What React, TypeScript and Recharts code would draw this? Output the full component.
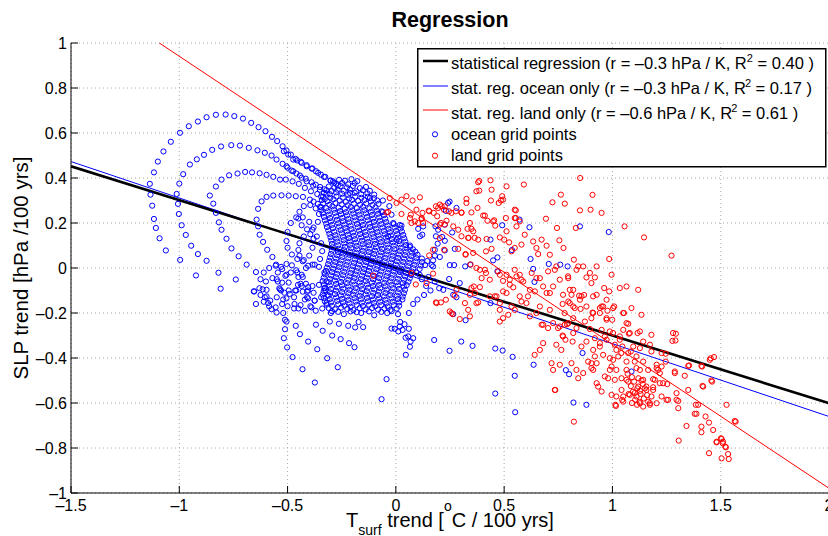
import React from 'react';
import { ScatterChart, Scatter, XAxis, YAxis, CartesianGrid, ReferenceLine, Legend } from 'recharts';

const FONT = '"Liberation Sans", Arial, Helvetica, sans-serif';

const xTicks = [-1.5, -1, -0.5, 0, 0.5, 1, 1.5, 2];
const yTicks = [-1, -0.8, -0.6, -0.4, -0.2, 0, 0.2, 0.4, 0.6, 0.8, 1];

// regression lines, end points in data units
const regAll = [{ x: -1.5, y: 0.452 }, { x: 2, y: -0.601 }];
const regOcean = [{ x: -1.5, y: 0.473 }, { x: 2, y: -0.66 }];
const regLand = [{ x: -1.5, y: 1.261 }, { x: 2, y: -0.979 }];

// ocean grid points: the big arcs on the left
const oceanArcs = [
  [-1.136, 0.374], [-1.133, 0.326], [-1.125, 0.277], [-1.117, 0.218], [-1.108, 0.178], [-1.091, 0.132], [-1.062, 0.078], [-0.996, 0.036], [-0.923, -0.033],
  [-1.117, 0.425], [-1.099, 0.473], [-1.073, 0.518], [-1.039, 0.561], [-0.997, 0.601], [-0.956, 0.63], [-0.914, 0.651], [-0.874, 0.67], [-0.831, 0.681], [-0.786, 0.682],
  [-0.746, 0.675], [-0.706, 0.664], [-0.668, 0.645], [-0.634, 0.626], [-0.602, 0.608], [-0.572, 0.583], [-0.548, 0.564], [-0.523, 0.541], [-0.505, 0.522], [-0.485, 0.504],
  [-0.463, 0.485], [-0.439, 0.472], [-0.412, 0.457], [-0.385, 0.442], [-0.359, 0.423], [-0.332, 0.405], [-0.302, 0.389],
  [-1.0, 0.375], [-0.982, 0.417], [-0.951, 0.46], [-0.919, 0.483], [-0.886, 0.503], [-0.848, 0.525], [-0.807, 0.54], [-0.76, 0.546], [-0.72, 0.544], [-0.679, 0.534],
  [-0.639, 0.523], [-0.605, 0.512], [-0.574, 0.5], [-0.551, 0.482], [-0.523, 0.463], [-0.5, 0.446], [-0.474, 0.43], [-0.443, 0.411], [-0.416, 0.397], [-0.389, 0.381],
  [-1.012, 0.329], [-1.006, 0.285], [-1.002, 0.24], [-0.989, 0.19], [-0.97, 0.147], [-0.945, 0.099], [-0.914, 0.062], [-0.874, 0.032], [-0.819, -0.021], [-0.809, -0.092],
  [-0.859, 0.322], [-0.831, 0.362], [-0.805, 0.393], [-0.77, 0.412], [-0.731, 0.42], [-0.696, 0.427], [-0.664, 0.425], [-0.629, 0.421], [-0.597, 0.414], [-0.566, 0.405],
  [-0.535, 0.393], [-0.508, 0.393], [-0.477, 0.385], [-0.448, 0.374], [-0.42, 0.356], [-0.392, 0.341], [-0.363, 0.329],
  [-0.843, 0.286], [-0.831, 0.245], [-0.817, 0.203], [-0.805, 0.17], [-0.782, 0.13], [-0.759, 0.087], [-0.726, 0.052], [-0.689, 0.015], [-0.646, -0.018], [-0.654, -0.104], [-0.646, -0.16],
  [-0.643, 0.215], [-0.636, 0.263], [-0.62, 0.296], [-0.597, 0.316], [-0.566, 0.322], [-0.528, 0.323], [-0.495, 0.322], [-0.462, 0.319], [-0.429, 0.316], [-0.397, 0.304],
  [-0.636, 0.185], [-0.629, 0.148], [-0.613, 0.116], [-0.594, 0.081], [-0.57, 0.049], [-0.553, 0.015],
];

const oceanStreaks = [
  [-0.517, 0.519], [-0.497, 0.504], [-0.474, 0.482], [-0.456, 0.478], [-0.435, 0.467], [-0.412, 0.452], [-0.389, 0.442], [-0.369, 0.43], [-0.346, 0.415], [-0.326, 0.405], [-0.301, 0.388],
  [-0.505, 0.452], [-0.482, 0.433], [-0.459, 0.42], [-0.435, 0.401], [-0.412, 0.385], [-0.382, 0.366], [-0.351, 0.348], [-0.32, 0.331],
  [-0.285, 0.378], [-0.268, 0.366], [-0.37, 0.37], [-0.35, 0.36], [-0.33, 0.35], [-0.345, 0.318], [-0.328, 0.306], [-0.38, 0.295], [-0.36, 0.285], [-0.345, 0.27],
];

// dense ocean cluster around x = -0.3 .. 0.1
const oceanCore = [
  [-0.29, 0.385], [-0.262, 0.392], [-0.235, 0.388], [-0.205, 0.395], [-0.178, 0.386],
  [-0.31, 0.362], [-0.284, 0.356], [-0.255, 0.364], [-0.226, 0.358], [-0.198, 0.365], [-0.166, 0.355], [-0.138, 0.36],
  [-0.332, 0.334], [-0.305, 0.328], [-0.276, 0.336], [-0.248, 0.33], [-0.22, 0.325], [-0.19, 0.334], [-0.16, 0.328], [-0.131, 0.332], [-0.1, 0.326],
  [-0.342, 0.302], [-0.316, 0.297], [-0.288, 0.305], [-0.259, 0.299], [-0.231, 0.294], [-0.202, 0.303], [-0.174, 0.298], [-0.145, 0.302], [-0.116, 0.296], [-0.086, 0.3],
  [-0.35, 0.272], [-0.321, 0.266], [-0.293, 0.274], [-0.264, 0.268], [-0.236, 0.263], [-0.208, 0.271], [-0.18, 0.266], [-0.151, 0.272], [-0.122, 0.265], [-0.094, 0.27],
  [-0.338, 0.243], [-0.31, 0.237], [-0.282, 0.245], [-0.253, 0.239], [-0.225, 0.234], [-0.196, 0.242], [-0.168, 0.237], [-0.139, 0.243], [-0.11, 0.236], [-0.082, 0.241], [-0.054, 0.235],
  [-0.328, 0.212], [-0.3, 0.207], [-0.272, 0.214], [-0.243, 0.208], [-0.215, 0.203], [-0.187, 0.211], [-0.158, 0.206], [-0.13, 0.212], [-0.101, 0.205], [-0.073, 0.21], [-0.044, 0.204],
  [-0.318, 0.182], [-0.29, 0.177], [-0.262, 0.184], [-0.233, 0.178], [-0.205, 0.173], [-0.176, 0.181], [-0.148, 0.176], [-0.119, 0.182], [-0.09, 0.175], [-0.062, 0.18], [-0.034, 0.174], [-0.006, 0.18], [0.022, 0.176],
  [-0.307, 0.152], [-0.279, 0.146], [-0.25, 0.154], [-0.222, 0.148], [-0.194, 0.143], [-0.165, 0.151], [-0.137, 0.146], [-0.108, 0.152], [-0.08, 0.145], [-0.051, 0.15], [-0.023, 0.144], [0.006, 0.15], [0.034, 0.147],
  [-0.298, 0.122], [-0.27, 0.117], [-0.241, 0.124], [-0.213, 0.118], [-0.184, 0.113], [-0.156, 0.121], [-0.127, 0.116], [-0.099, 0.122], [-0.07, 0.115], [-0.042, 0.12], [-0.013, 0.114], [0.015, 0.12], [0.044, 0.117],
  [-0.292, 0.092], [-0.263, 0.086], [-0.235, 0.094], [-0.206, 0.088], [-0.178, 0.083], [-0.149, 0.091], [-0.121, 0.086], [-0.092, 0.092], [-0.064, 0.085], [-0.035, 0.09], [-0.007, 0.084], [0.022, 0.09], [0.05, 0.087], [0.079, 0.083],
  [-0.3, 0.062], [-0.271, 0.057], [-0.243, 0.064], [-0.214, 0.058], [-0.186, 0.053], [-0.157, 0.061], [-0.129, 0.056], [-0.1, 0.062], [-0.072, 0.055], [-0.043, 0.06], [-0.015, 0.054], [0.014, 0.06], [0.042, 0.057], [0.071, 0.053], [0.1, 0.059],
  [-0.308, 0.032], [-0.28, 0.027], [-0.251, 0.034], [-0.223, 0.028], [-0.194, 0.023], [-0.166, 0.031], [-0.137, 0.026], [-0.109, 0.032], [-0.08, 0.025], [-0.052, 0.03], [-0.023, 0.024], [0.005, 0.03], [0.034, 0.027], [0.062, 0.023], [0.091, 0.029], [0.12, 0.026], [0.145, 0.031],
  [-0.318, 0.002], [-0.29, -0.003], [-0.261, 0.004], [-0.233, -0.002], [-0.204, -0.007], [-0.176, 0.001], [-0.147, -0.004], [-0.119, 0.002], [-0.09, -0.005], [-0.062, 0.0], [-0.033, -0.006], [-0.005, 0.0], [0.024, -0.003], [0.052, -0.007], [0.081, -0.001], [0.11, -0.004],
  [-0.328, -0.028], [-0.3, -0.033], [-0.271, -0.026], [-0.243, -0.032], [-0.214, -0.037], [-0.186, -0.029], [-0.157, -0.034], [-0.129, -0.028], [-0.1, -0.035], [-0.072, -0.03], [-0.043, -0.036], [-0.015, -0.03], [0.014, -0.033], [0.042, -0.037], [0.07, -0.031],
  [-0.338, -0.058], [-0.31, -0.063], [-0.281, -0.056], [-0.253, -0.062], [-0.224, -0.067], [-0.196, -0.059], [-0.167, -0.064], [-0.139, -0.058], [-0.11, -0.065], [-0.082, -0.06], [-0.053, -0.066], [-0.025, -0.06], [0.004, -0.063], [0.032, -0.067], [0.058, -0.061],
  [-0.328, -0.088], [-0.3, -0.093], [-0.271, -0.086], [-0.243, -0.092], [-0.214, -0.097], [-0.186, -0.089], [-0.157, -0.094], [-0.129, -0.088], [-0.1, -0.095], [-0.072, -0.09], [-0.043, -0.096], [-0.015, -0.09], [0.014, -0.093], [0.042, -0.097],
  [-0.338, -0.118], [-0.31, -0.123], [-0.281, -0.116], [-0.253, -0.122], [-0.224, -0.127], [-0.196, -0.119], [-0.167, -0.124], [-0.139, -0.118], [-0.11, -0.125], [-0.082, -0.12], [-0.053, -0.126], [-0.025, -0.12], [0.004, -0.123], [0.032, -0.127],
  [-0.328, -0.148], [-0.3, -0.153], [-0.271, -0.146], [-0.243, -0.152], [-0.214, -0.157], [-0.186, -0.149], [-0.157, -0.154], [-0.129, -0.148], [-0.1, -0.155], [-0.072, -0.15], [-0.043, -0.156], [-0.015, -0.15], [0.014, -0.153],
  [-0.31, -0.178], [-0.281, -0.183], [-0.253, -0.176], [-0.224, -0.182], [-0.196, -0.187], [-0.167, -0.179], [-0.139, -0.184], [-0.11, -0.178], [-0.082, -0.185], [-0.053, -0.18], [-0.025, -0.186], [0.004, -0.18],
  [-0.3, -0.2], [-0.24, -0.205], [-0.16, -0.2], [-0.1, -0.21], [-0.04, -0.2], [0.01, -0.205],
];

// second, interleaved layer of the same cluster (it is nearly solid in the picture)
const oceanCoreFill = [
  [-0.276, 0.374], [-0.248, 0.378], [-0.22, 0.372], [-0.19, 0.377],
  [-0.321, 0.346], [-0.296, 0.342], [-0.269, 0.348], [-0.241, 0.343], [-0.212, 0.349], [-0.183, 0.341], [-0.152, 0.346], [-0.12, 0.343],
  [-0.337, 0.316], [-0.302, 0.312], [-0.274, 0.318], [-0.245, 0.313], [-0.216, 0.309], [-0.188, 0.317], [-0.159, 0.312], [-0.13, 0.316], [-0.101, 0.31],
  [-0.336, 0.287], [-0.307, 0.281], [-0.279, 0.289], [-0.25, 0.283], [-0.222, 0.279], [-0.194, 0.286], [-0.165, 0.281], [-0.137, 0.287], [-0.108, 0.28], [-0.08, 0.285],
  [-0.344, 0.257], [-0.315, 0.252], [-0.287, 0.259], [-0.258, 0.253], [-0.23, 0.248], [-0.201, 0.256], [-0.173, 0.251], [-0.145, 0.257], [-0.116, 0.25], [-0.088, 0.255], [-0.06, 0.249],
  [-0.332, 0.227], [-0.304, 0.222], [-0.276, 0.229], [-0.247, 0.223], [-0.219, 0.218], [-0.191, 0.226], [-0.162, 0.221], [-0.134, 0.227], [-0.105, 0.22], [-0.077, 0.225], [-0.049, 0.219],
  [-0.322, 0.197], [-0.294, 0.192], [-0.266, 0.199], [-0.237, 0.193], [-0.209, 0.188], [-0.18, 0.196], [-0.152, 0.191], [-0.123, 0.197], [-0.095, 0.19], [-0.067, 0.195], [-0.038, 0.189], [-0.01, 0.195], [0.018, 0.191],
  [-0.312, 0.167], [-0.284, 0.161], [-0.255, 0.169], [-0.227, 0.163], [-0.198, 0.158], [-0.17, 0.166], [-0.141, 0.161], [-0.113, 0.167], [-0.085, 0.16], [-0.056, 0.165], [-0.028, 0.159], [0.0, 0.165], [0.028, 0.162],
  [-0.302, 0.137], [-0.274, 0.131], [-0.245, 0.139], [-0.217, 0.133], [-0.189, 0.128], [-0.16, 0.136], [-0.132, 0.131], [-0.103, 0.137], [-0.075, 0.13], [-0.047, 0.135], [-0.018, 0.129], [0.01, 0.135], [0.039, 0.132],
  [-0.295, 0.107], [-0.266, 0.101], [-0.238, 0.109], [-0.21, 0.103], [-0.181, 0.098], [-0.153, 0.106], [-0.124, 0.101], [-0.096, 0.107], [-0.067, 0.1], [-0.039, 0.105], [-0.01, 0.099], [0.018, 0.105], [0.047, 0.102], [0.065, 0.1],
  [-0.296, 0.077], [-0.267, 0.071], [-0.239, 0.079], [-0.21, 0.073], [-0.182, 0.068], [-0.153, 0.076], [-0.125, 0.071], [-0.096, 0.077], [-0.068, 0.07], [-0.039, 0.075], [-0.011, 0.069], [0.018, 0.075], [0.046, 0.072], [0.075, 0.068], [0.09, 0.072],
  [-0.304, 0.047], [-0.276, 0.042], [-0.247, 0.049], [-0.219, 0.043], [-0.19, 0.038], [-0.162, 0.046], [-0.133, 0.041], [-0.105, 0.047], [-0.076, 0.04], [-0.048, 0.045], [-0.019, 0.039], [0.01, 0.045], [0.038, 0.042], [0.066, 0.038], [0.095, 0.044], [0.12, 0.042],
  [-0.313, 0.017], [-0.285, 0.012], [-0.256, 0.019], [-0.228, 0.013], [-0.199, 0.008], [-0.171, 0.016], [-0.142, 0.011], [-0.114, 0.017], [-0.085, 0.01], [-0.057, 0.015], [-0.028, 0.009], [0.0, 0.015], [0.029, 0.012], [0.057, 0.008], [0.086, 0.014], [0.115, 0.011], [0.135, 0.013],
  [-0.323, -0.013], [-0.295, -0.018], [-0.266, -0.011], [-0.238, -0.017], [-0.209, -0.022], [-0.181, -0.014], [-0.152, -0.019], [-0.124, -0.013], [-0.095, -0.02], [-0.067, -0.015], [-0.038, -0.021], [-0.01, -0.015], [0.019, -0.018], [0.047, -0.022], [0.076, -0.016], [0.095, -0.02],
  [-0.333, -0.043], [-0.305, -0.048], [-0.276, -0.041], [-0.248, -0.047], [-0.219, -0.052], [-0.191, -0.044], [-0.162, -0.049], [-0.134, -0.043], [-0.105, -0.05], [-0.077, -0.045], [-0.048, -0.051], [-0.02, -0.045], [0.009, -0.048], [0.037, -0.052], [0.064, -0.046],
  [-0.333, -0.073], [-0.305, -0.078], [-0.276, -0.071], [-0.248, -0.077], [-0.219, -0.082], [-0.191, -0.074], [-0.162, -0.079], [-0.134, -0.073], [-0.105, -0.08], [-0.077, -0.075], [-0.048, -0.081], [-0.02, -0.075], [0.009, -0.078], [0.037, -0.082], [0.05, -0.076],
  [-0.333, -0.103], [-0.305, -0.108], [-0.276, -0.101], [-0.248, -0.107], [-0.219, -0.112], [-0.191, -0.104], [-0.162, -0.109], [-0.134, -0.103], [-0.105, -0.11], [-0.077, -0.105], [-0.048, -0.111], [-0.02, -0.105], [0.009, -0.108], [0.037, -0.112],
  [-0.333, -0.133], [-0.305, -0.138], [-0.276, -0.131], [-0.248, -0.137], [-0.219, -0.142], [-0.191, -0.134], [-0.162, -0.139], [-0.134, -0.133], [-0.105, -0.14], [-0.077, -0.135], [-0.048, -0.141], [-0.02, -0.135], [0.009, -0.138], [0.03, -0.14],
  [-0.32, -0.163], [-0.295, -0.168], [-0.266, -0.161], [-0.238, -0.167], [-0.209, -0.172], [-0.181, -0.164], [-0.152, -0.169], [-0.124, -0.163], [-0.095, -0.17], [-0.067, -0.165], [-0.038, -0.171], [-0.01, -0.165], [0.015, -0.168],
  [-0.295, -0.192], [-0.266, -0.195], [-0.209, -0.193], [-0.181, -0.196], [-0.124, -0.193], [-0.067, -0.195], [-0.02, -0.192],
];

// small loops left of and below the cluster
const oceanLoops = [
  [-0.63, -0.09], [-0.625, -0.05], [-0.61, -0.02], [-0.585, 0.0], [-0.555, 0.01], [-0.525, -0.005], [-0.505, -0.03], [-0.495, -0.065], [-0.495, -0.1], [-0.505, -0.135], [-0.525, -0.16], [-0.555, -0.175], [-0.585, -0.17], [-0.61, -0.15], [-0.625, -0.12],
  [-0.53, -0.1], [-0.525, -0.065], [-0.51, -0.035], [-0.485, -0.02], [-0.455, -0.02], [-0.43, -0.04], [-0.415, -0.07], [-0.41, -0.105], [-0.42, -0.14], [-0.44, -0.165], [-0.47, -0.18], [-0.5, -0.17], [-0.52, -0.14],
  [-0.44, -0.07], [-0.435, -0.03], [-0.415, 0.0], [-0.385, 0.015], [-0.355, 0.005], [-0.33, -0.02], [-0.32, -0.06], [-0.325, -0.1], [-0.345, -0.13], [-0.375, -0.145], [-0.405, -0.135], [-0.43, -0.105],
  [-0.47, -0.13], [-0.46, -0.1], [-0.435, -0.08], [-0.405, -0.085], [-0.38, -0.11], [-0.375, -0.145], [-0.39, -0.175], [-0.42, -0.19], [-0.45, -0.18], [-0.468, -0.16],
  [-0.505, 0.12], [-0.5, 0.16], [-0.485, 0.2], [-0.46, 0.225], [-0.43, 0.225], [-0.4, 0.205], [-0.385, 0.17], [-0.38, 0.13], [-0.385, 0.09], [-0.4, 0.055], [-0.425, 0.035], [-0.455, 0.04], [-0.48, 0.06], [-0.5, 0.09],
  [-0.45, 0.08], [-0.445, 0.11], [-0.425, 0.14], [-0.395, 0.15], [-0.365, 0.14], [-0.345, 0.11], [-0.34, 0.075], [-0.35, 0.04], [-0.375, 0.015], [-0.405, 0.01], [-0.43, 0.03], [-0.445, 0.055],
  [-0.55, -0.05], [-0.545, -0.02], [-0.53, 0.005], [-0.505, 0.018], [-0.48, 0.012], [-0.46, -0.01], [-0.45, -0.04], [-0.452, -0.075], [-0.465, -0.1], [-0.49, -0.115], [-0.515, -0.11], [-0.538, -0.09],
  [-0.41, -0.13], [-0.405, -0.1], [-0.385, -0.08], [-0.355, -0.075], [-0.33, -0.09], [-0.315, -0.12], [-0.32, -0.155], [-0.34, -0.18], [-0.37, -0.19], [-0.395, -0.17],
  [-0.6, -0.06], [-0.57, -0.045], [-0.545, -0.06], [-0.535, -0.095], [-0.55, -0.13], [-0.58, -0.145], [-0.605, -0.13], [-0.615, -0.095],
  [-0.45, 0.22], [-0.445, 0.25], [-0.425, 0.275], [-0.395, 0.28], [-0.37, 0.265], [-0.355, 0.24], [-0.36, 0.205], [-0.38, 0.18], [-0.41, 0.172], [-0.435, 0.19],
];

// scattered ocean points
const oceanSpread = [
  [-0.739, -0.051], [-0.656, -0.104], [-0.597, -0.097], [-0.597, -0.126], [-0.59, -0.156], [-0.574, -0.183], [-0.551, -0.198], [-0.52, -0.2], [-0.512, -0.23],
  [-0.505, -0.238], [-0.512, -0.272], [-0.517, -0.312], [-0.502, -0.353], [-0.477, -0.396], [-0.462, -0.257], [-0.443, -0.294], [-0.405, -0.327], [-0.363, -0.361], [-0.431, -0.45],
  [-0.317, -0.401], [-0.374, -0.509], [-0.268, -0.441], [-0.338, -0.279], [-0.294, -0.3], [-0.255, -0.316], [-0.216, -0.334], [-0.191, -0.352], [-0.22, -0.257], [-0.263, -0.248],
  [-0.305, -0.238], [-0.369, -0.252], [-0.151, -0.263], [-0.172, -0.24], [-0.188, -0.264], [-0.043, -0.494], [-0.066, -0.583], [0.046, -0.386], [0.057, -0.304], [0.068, -0.327],
  [0.08, -0.312], [-0.02, -0.269], [-0.005, -0.27], [0.011, -0.282], [0.031, -0.275], [0.018, -0.26], [0.02, -0.24], [0.04, -0.25], [0.06, -0.27], [0.065, -0.35], [0.045, -0.31],
  [0.12, -0.05], [0.14, -0.08], [0.16, -0.1], [0.13, -0.12], [0.1, -0.14], [0.18, -0.06], [0.2, -0.09], [0.11, -0.03], [0.15, -0.04], [0.08, -0.16], [0.06, -0.2],
  [0.177, -0.32], [0.248, -0.368], [0.302, -0.327], [0.354, -0.346], [0.459, -0.358], [0.493, -0.367], [0.539, -0.395], [0.636, -0.43], [0.549, -0.479], [0.459, -0.558],
  [0.551, -0.641], [0.322, -0.232], [0.437, -0.156], [0.785, -0.454], [0.8, -0.472], [0.82, -0.598], [0.88, -0.608], [0.862, -0.378], [1.088, -0.46], [0.246, -0.049],
  [0.265, -0.205], [0.469, -0.015], [0.219, -0.097], [0.295, -0.067], [0.265, -0.119], [0.28, -0.13],
  [0.248, 0.295], [0.28, 0.267], [0.231, 0.254], [0.26, 0.158], [0.226, 0.121], [0.193, 0.108], [0.18, 0.081], [0.203, 0.049], [0.172, 0.034], [0.165, 0.013], [0.183, 0.185],
  [0.214, 0.138], [0.226, 0.078], [0.249, 0.013], [0.269, 0.013], [0.32, 0.007], [0.343, 0.015], [0.437, 0.126], [0.491, 0.19], [0.571, 0.215], [0.617, 0.181], [0.536, 0.08],
  [0.622, 0.04], [0.469, 0.047], [0.449, 0.034], [0.634, -0.004], [0.64, -0.062], [0.706, 0.018], [0.759, 0.015], [0.793, 0.007], [0.85, 0.185], [0.983, 0.16], [0.126, 0.185], [0.122, 0.148],
  [-0.212, 0.334], [-0.12, 0.311], [-0.066, 0.252], [-0.02, 0.237], [-0.012, 0.2], [0.026, 0.188], [0.103, 0.174], [0.111, 0.141], [0.065, 0.093], [0.195, 0.17], [0.185, 0.141],
  [0.226, 0.193], [0.241, 0.289], [0.272, 0.085], [0.18, 0.055], [0.172, 0.007], [-0.036, 0.141], [0.003, 0.126], [-0.06, 0.3], [-0.03, 0.275],
];

// land grid points
const landPoints = [
  [-0.028, 0.311], [0.003, 0.289], [0.026, 0.304], [0.049, 0.319], [0.077, 0.3], [0.111, 0.314], [-0.036, 0.249], [0.026, 0.24], [0.065, 0.222], [0.088, 0.207], [0.119, 0.218],
  [0.152, 0.255], [0.195, 0.267], [0.069, 0.237], [0.095, 0.259], [0.123, 0.245], [0.154, 0.252], [0.175, 0.245], [0.211, 0.274], [0.257, 0.245], [0.072, 0.2], [0.103, 0.2],
  [0.126, 0.2], [0.203, 0.193], [0.226, 0.193], [0.203, 0.133], [0.154, 0.056], [0.172, 0.081], [0.223, 0.081], [-0.043, 0.247],
  [0.385, 0.387], [0.437, 0.39], [0.385, 0.344], [0.442, 0.348], [0.511, 0.363], [0.591, 0.371], [0.851, 0.4], [0.439, 0.3], [0.485, 0.3], [0.491, 0.319], [0.762, 0.326],
  [0.723, 0.292], [0.78, 0.286], [0.908, 0.325], [0.899, 0.259], [0.95, 0.245], [0.85, 0.256], [0.693, 0.219], [0.326, 0.307], [0.326, 0.289], [0.303, 0.247], [0.349, 0.247],
  [0.403, 0.233], [0.423, 0.21], [0.449, 0.207], [0.459, 0.188], [0.508, 0.222], [0.549, 0.259], [0.549, 0.222], [0.572, 0.207], [0.557, 0.185], [0.511, 0.163], [0.48, 0.136],
  [0.5, 0.126], [0.523, 0.114], [0.549, 0.089], [0.534, 0.074], [0.58, 0.104], [0.595, 0.148], [0.634, 0.118], [0.649, 0.089], [0.673, 0.126], [0.696, 0.099], [0.657, 0.062],
  [0.711, 0.059], [0.744, 0.178], [0.755, 0.123], [0.774, 0.089], [0.831, 0.178], [0.822, 0.037], [0.842, 0.007], [0.865, 0.007], [0.896, -0.022], [0.927, 0.007], [0.88, -0.042],
  [0.919, -0.042], [0.962, -0.089], [0.996, -0.03], [0.985, 0.04], [1.034, -0.089], [1.065, -0.082], [1.056, 0.185], [1.146, 0.136], [1.273, 0.055], [1.003, -0.178], [1.088, -0.178],
  [1.05, -0.2], [1.119, -0.097],
  [0.349, 0.174], [0.334, 0.134], [0.38, 0.126], [0.322, 0.062], [0.357, 0.067], [0.288, 0.17], [0.303, 0.141], [0.245, 0.252], [0.277, 0.252], [0.226, 0.274], [0.203, 0.282],
  [0.185, 0.274], [0.119, 0.222], [0.191, 0.23], [0.208, 0.2], [0.234, 0.21], [0.265, 0.185], [0.419, 0.129], [0.416, 0.074], [0.442, 0.085], [0.396, -0.045], [0.411, -0.008],
  [0.434, -0.052], [0.48, -0.03], [0.495, -0.057], [0.526, -0.052], [0.549, -0.008], [0.572, -0.03], [0.588, -0.06], [0.619, -0.097], [0.649, -0.045], [0.68, -0.082], [0.711, -0.111],
  [0.734, -0.008], [0.757, -0.052], [0.795, -0.037], [0.803, -0.097], [0.819, -0.171], [0.85, -0.141], [0.88, -0.171], [0.911, -0.2], [0.95, -0.171], [0.973, -0.141], [0.542, -0.086],
  [0.495, -0.104], [0.457, -0.126], [0.48, -0.156], [0.534, -0.171], [0.58, -0.149], [0.61, -0.126], [0.319, -0.156], [0.365, -0.111], [0.388, -0.085], [0.188, -0.156], [0.342, -0.215],
  [0.454, 0.212], [0.475, 0.289], [0.495, 0.304], [0.554, 0.256], [0.554, 0.222], [0.377, 0.267], [0.411, 0.233], [0.372, 0.341], [0.38, 0.381], [0.342, 0.2], [0.331, 0.174],
  [0.357, 0.163], [0.364, 0.134], [0.336, 0.134], [0.303, 0.245], [0.222, 0.259], [0.288, 0.085], [0.322, 0.059], [0.372, 0.0], [0.36, -0.082], [0.28, -0.097],
  [-0.105, -0.034], [0.072, -0.022], [0.092, -0.073], [0.142, -0.067], [0.172, -0.025], [0.185, -0.153], [0.208, -0.153], [0.231, -0.141], [0.262, -0.205], [0.295, -0.227],
  [0.334, -0.186], [0.345, 0.016], [0.388, -0.008], [0.416, -0.022], [0.38, -0.153], [0.48, -0.238], [0.495, -0.223], [0.519, -0.208], [0.549, -0.186], [0.603, -0.156],
  [0.619, -0.215], [0.665, -0.171], [0.68, -0.252], [0.703, -0.267], [0.726, -0.245], [0.757, -0.26], [0.78, -0.252], [0.819, -0.289], [0.772, -0.304], [0.741, -0.341],
  [0.764, -0.364], [0.68, -0.334], [0.665, -0.364], [0.641, -0.386], [0.719, -0.423], [0.726, -0.453], [0.757, -0.43], [0.811, -0.423], [0.834, -0.453], [0.842, -0.49],
  [0.734, -0.542], [0.434, -0.126], [0.572, -0.126], [0.642, -0.104], [0.696, -0.111], [0.726, -0.082], [0.772, -0.119], [0.796, -0.149], [0.819, -0.097], [0.796, -0.045],
  [0.834, -0.008], [0.472, -0.015], [0.511, -0.03], [0.58, -0.052], [0.627, -0.022], [0.665, -0.045], [0.703, -0.015], [0.741, 0.007], [0.342, -0.119], [0.249, -0.193],
  [0.272, -0.123], [0.257, -0.2], [0.349, -0.089], [0.372, -0.156], [0.465, -0.126], [0.48, -0.186], [0.511, -0.111], [0.526, -0.074], [0.557, -0.037], [0.649, -0.2],
  [0.673, -0.252], [0.711, -0.186], [0.749, -0.267], [0.796, -0.245], [0.857, -0.126], [0.903, -0.067], [0.927, -0.119], [0.942, -0.2], [0.957, -0.171], [0.973, -0.23],
  [0.988, -0.282], [0.965, -0.304], [0.942, -0.349], [0.919, -0.393], [0.903, -0.445], [0.934, -0.527], [0.965, -0.482], [0.988, -0.453], [1.003, -0.408], [1.018, -0.364],
  [1.034, -0.319], [1.05, -0.275], [1.065, -0.245], [1.08, -0.289], [1.096, -0.349], [1.111, -0.393], [1.127, -0.453], [1.142, -0.497], [1.157, -0.542], [1.119, -0.527],
  [1.111, -0.571], [1.127, -0.601], [1.142, -0.616], [1.173, -0.608], [1.18, -0.571], [1.196, -0.497], [1.211, -0.453], [1.227, -0.571], [1.234, -0.512], [1.257, -0.586],
  [1.296, -0.586], [1.304, -0.623], [1.296, -0.556], [1.306, -0.767], [1.342, -0.702], [1.35, -0.542], [1.354, -0.433], [1.334, -0.479], [1.288, -0.46], [1.246, -0.416],
  [1.204, -0.445], [1.28, -0.289], [1.291, -0.322], [1.127, -0.282], [1.142, -0.327], [1.18, -0.297], [1.227, -0.378], [1.38, -0.648], [1.385, -0.608], [1.411, -0.705],
  [1.411, -0.73], [1.419, -0.527], [1.446, -0.687], [1.465, -0.72], [1.43, -0.66], [1.446, -0.823], [1.481, -0.772], [1.504, -0.76], [1.509, -0.779], [1.524, -0.797],
  [1.504, -0.846], [1.534, -0.827], [1.537, -0.849], [1.527, -0.608], [1.565, -0.68], [1.414, -0.438], [1.454, -0.401], [1.469, -0.396], [1.46, -0.505], [1.396, -0.608],
  [0.857, -0.349], [0.903, -0.423], [1.041, -0.378], [1.065, -0.497], [1.018, -0.571], [1.05, -0.594], [1.165, -0.594], [1.188, -0.542], [0.822, -0.683], [0.736, -0.542],
  [0.927, -0.512], [0.95, -0.549], [0.996, -0.564], [1.014, -0.608], [1.045, -0.586], [1.08, -0.564], [1.127, -0.546],
  [0.811, -0.119], [0.846, -0.123], [0.869, -0.12], [0.911, -0.126], [0.985, -0.104], [0.803, -0.156], [0.826, -0.178], [0.853, -0.182], [0.908, -0.198], [0.942, -0.178],
  [0.977, -0.19], [1.008, -0.171], [1.053, -0.2], [1.134, -0.208], [0.779, -0.2], [0.819, -0.223], [0.873, -0.238], [0.903, -0.223], [0.973, -0.223], [0.999, -0.23],
  [1.073, -0.248], [0.834, -0.267], [0.896, -0.271], [0.95, -0.275], [1.003, -0.289], [1.034, -0.304], [1.076, -0.292], [1.116, -0.289], [1.293, -0.292], [1.277, -0.324],
  [0.783, -0.319], [0.816, -0.327], [0.88, -0.327], [0.919, -0.312], [0.942, -0.334], [0.973, -0.319], [1.011, -0.341], [1.046, -0.349], [1.085, -0.371], [1.127, -0.356],
  [1.173, -0.341], [1.18, -0.371], [1.246, -0.381], [0.911, -0.364], [0.957, -0.386], [0.988, -0.401], [1.027, -0.393], [1.065, -0.416], [1.103, -0.416], [1.142, -0.416],
  [0.888, -0.416], [0.927, -0.423], [0.996, -0.438], [1.018, -0.453], [1.065, -0.453], [1.111, -0.445], [1.165, -0.453], [1.204, -0.43], [1.227, -0.438], [1.288, -0.467],
  [1.35, -0.435], [1.411, -0.435], [1.45, -0.408], [1.457, -0.5], [1.416, -0.524], [0.865, -0.467], [0.911, -0.453], [0.98, -0.49], [1.011, -0.497], [1.042, -0.49],
  [1.073, -0.505], [1.134, -0.5], [1.188, -0.494], [1.157, -0.527], [1.188, -0.53], [1.219, -0.512], [1.253, -0.516], [1.042, -0.542], [1.103, -0.556], [1.05, -0.571],
  [1.114, -0.608], [1.173, -0.601], [1.204, -0.601], [1.25, -0.586], [1.304, -0.591], [1.016, -0.613], [1.388, -0.648], [1.481, -0.775], [1.501, -0.757], [1.511, -0.772],
  [1.521, -0.794], [1.569, -0.683], [1.073, -0.378], [1.219, -0.467],
  [1.07, -0.47], [1.09, -0.485], [1.1, -0.505], [1.12, -0.49], [1.14, -0.515], [1.15, -0.535], [1.085, -0.525], [1.095, -0.55], [1.115, -0.535], [1.13, -0.56],
  [1.145, -0.58], [1.105, -0.585], [1.125, -0.595], [1.16, -0.565], [1.075, -0.56], [1.09, -0.6], [0.77, -0.16], [0.79, -0.25], [0.77, -0.3],
];

const toPts = (arr: number[][]) => arr.map(([x, y]) => ({ x, y }));
const oceanData = toPts([...oceanCore, ...oceanCoreFill, ...oceanArcs, ...oceanStreaks, ...oceanLoops, ...oceanSpread]);
const landData = toPts(landPoints);

const fmt = (v: number) => (v < 0 ? '\u2013' + String(Math.abs(v)) : String(v));

const ring = (color: string) => (props: any) => (
  <circle cx={props.cx} cy={props.cy} r={2.6} fill="none" stroke={color} strokeWidth={1} />
);

function LegendBox() {
  const tx = 34;
  const fs = 16.5;
  return (
    <svg width={410} height={120} style={{ display: 'block', fontFamily: FONT }}>
      <rect x={0.75} y={0.75} width={408} height={118} fill="#fff" stroke="#000" strokeWidth={1.5} />
      <line x1={6} x2={31} y1={13} y2={13} stroke="#000" strokeWidth={2.5} />
      <line x1={6} x2={31} y1={38} y2={38} stroke="#0000ff" strokeWidth={1} />
      <line x1={6} x2={31} y1={62} y2={62} stroke="#ff0000" strokeWidth={1} />
      <circle cx={18} cy={86.3} r={2.6} fill="none" stroke="#0000ff" />
      <circle cx={18} cy={107.7} r={2.6} fill="none" stroke="#ff0000" />
      <text x={tx} y={21.3} fontSize={fs} fill="#000">
        statistical regression (r = {'\u2013'}0.3 hPa / K, R<tspan dy={-7} fontSize={11}>2</tspan><tspan dy={7}> = 0.40 )</tspan>
      </text>
      <text x={tx} y={46.3} fontSize={fs} fill="#000">
        stat. reg. ocean only (r = {'\u2013'}0.3 hPa / K, R<tspan dy={-7} dx={-1} fontSize={11}>2</tspan><tspan dy={7}> = 0.17 )</tspan>
      </text>
      <text x={tx} y={71} fontSize={fs} fill="#000">
        stat. reg. land only (r = {'\u2013'}0.6 hPa / K, R<tspan dy={-7} dx={-1} fontSize={11}>2</tspan><tspan dy={7}> = 0.61 )</tspan>
      </text>
      <text x={tx} y={92} fontSize={fs} fill="#000">ocean grid points</text>
      <text x={tx} y={113} fontSize={fs} fill="#000">land grid points</text>
    </svg>
  );
}

export default function App() {
  const tickStyle = { fill: '#000', fontSize: 16, fontFamily: FONT };
  return (
    <div style={{ position: 'absolute', left: 0, top: 0, width: 828, height: 536, overflow: 'hidden', background: '#fff', fontFamily: FONT }}>
      <ScatterChart width={840} height={536} margin={{ top: 43, right: 11, bottom: 13, left: 11 }}>
        <CartesianGrid stroke="#a8a8a8" strokeDasharray="1 3" />
        <XAxis
          type="number"
          dataKey="x"
          domain={[-1.5, 2]}
          ticks={xTicks}
          interval={0}
          allowDataOverflow
          height={30}
          tickFormatter={fmt}
          tick={tickStyle}
          tickSize={-7}
          tickMargin={14}
          axisLine={{ stroke: '#000' }}
          tickLine={{ stroke: '#000' }}
        />
        <YAxis
          type="number"
          dataKey="y"
          domain={[-1, 1]}
          ticks={yTicks}
          interval={0}
          allowDataOverflow
          width={60}
          tickFormatter={fmt}
          tick={tickStyle}
          tickSize={-7}
          tickMargin={11}
          axisLine={{ stroke: '#000' }}
          tickLine={{ stroke: '#000' }}
        />
        <Scatter name="ocean grid points" data={oceanData} shape={ring('#0000ff')} isAnimationActive={false} />
        <Scatter name="land grid points" data={landData} shape={ring('#ff0000')} isAnimationActive={false} />
        <ReferenceLine segment={regOcean} stroke="#0000ff" strokeWidth={1} ifOverflow="hidden" />
        <ReferenceLine segment={regLand} stroke="#ff0000" strokeWidth={1} ifOverflow="hidden" />
        <ReferenceLine segment={regAll} stroke="#000" strokeWidth={2.6} ifOverflow="hidden" />
        <Legend
          layout="horizontal"
          verticalAlign="middle"
          align="center"
          content={() => <LegendBox />}
          wrapperStyle={{ left: 417, top: 48, width: 410, height: 120 }}
        />
      </ScatterChart>
      <svg width={828} height={536} style={{ position: 'absolute', left: 0, top: 0, pointerEvents: 'none', fontFamily: FONT }}>
        <text x={450} y={27} textAnchor="middle" fontSize={21.5} fontWeight="bold" fill="#000">Regression</text>
        <text transform="translate(28,268) rotate(-90)" textAnchor="middle" fontSize={20.5} fill="#000">SLP trend [hPa /100 yrs]</text>
        <text x={450} y={527} textAnchor="middle" fontSize={20} fill="#000">
          T<tspan dy={8} fontSize={14}>surf</tspan><tspan dy={-8}> trend [</tspan><tspan dy={-16} fontSize={14}>o</tspan><tspan dy={16}>C / 100 yrs]</tspan>
        </text>
      </svg>
    </div>
  );
}
